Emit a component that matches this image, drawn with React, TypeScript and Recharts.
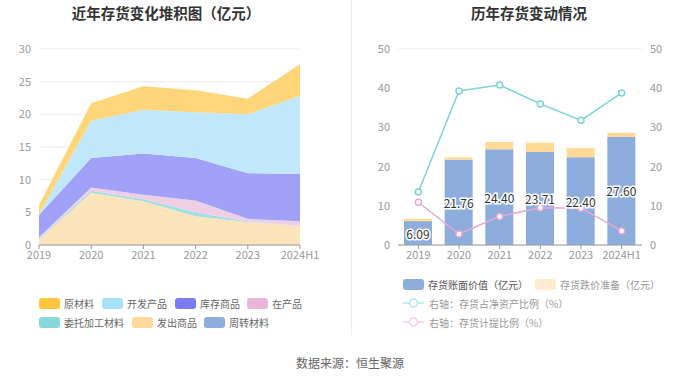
import React from 'react';
import {
  AreaChart,
  Area,
  ComposedChart,
  Bar,
  Line,
  XAxis,
  YAxis,
  CartesianGrid,
  LabelList
} from 'recharts';

const years = ['2019', '2020', '2021', '2022', '2023', '2024H1'];

// 左图：存货构成（亿元）
const zhouzhuan = [0, 0, 0, 0, 0, 0];
const fachu = [0.8, 8.0, 6.7, 4.4, 3.5, 2.9];
const weituo = [0.1, 0.3, 0.3, 0.6, 0.1, 0.05];
const zaichan = [0.3, 0.5, 0.7, 1.8, 0.4, 0.7];
const kucun = [3.4, 4.5, 6.3, 6.5, 7.0, 7.2];
const kaifa = [0.1, 5.7, 6.7, 7.0, 9.0, 12.0];
const yuancailiao = [1.4, 2.7, 3.6, 3.4, 2.4, 4.8];

// 右图：账面价值、跌价准备、比例
const bookValue = [6.09, 21.76, 24.4, 23.71, 22.4, 27.6];
const provision = [0.6, 0.6, 1.9, 2.4, 2.3, 1.0];
const netAssetRatio = [13.5, 39.3, 40.8, 36.0, 31.8, 38.8];
const provisionRatio = [10.9, 2.8, 7.3, 9.5, 9.4, 3.6];

const leftTicks = [0, 5, 10, 15, 20, 25, 30];
const rightTicks = [0, 10, 20, 30, 40, 50];

const areaSeries = [
  { key: 'zhouzhuan', name: '周转材料', values: zhouzhuan, fill: '#A9C0E6' },
  { key: 'fachu', name: '发出商品', values: fachu, fill: '#FDE5BB' },
  { key: 'weituo', name: '委托加工材料', values: weituo, fill: '#9FE0E2' },
  { key: 'zaichan', name: '在产品', values: zaichan, fill: '#EFCFE6' },
  { key: 'kucun', name: '库存商品', values: kucun, fill: '#A0A1F7' },
  { key: 'kaifa', name: '开发产品', values: kaifa, fill: '#C1E8FA' },
  { key: 'yuancailiao', name: '原材料', values: yuancailiao, fill: '#FFD57A' }
];

const areaData = years.map((year, i) => {
  const row: Record<string, string | number> = { year };
  areaSeries.forEach(s => {
    row[s.key] = s.values[i];
  });
  return row;
});

const barData = years.map((year, i) => ({
  year,
  book: bookValue[i],
  provision: provision[i],
  netRatio: netAssetRatio[i],
  provRatio: provisionRatio[i]
}));

const FONT = '"Noto Sans CJK SC", "Noto Sans", sans-serif';
const tickStyle = { fill: '#999', fontSize: 11, fontFamily: FONT };

const legendLeft = [
  { name: '原材料', color: '#FFC53D', x: 39, y: 303 },
  { name: '开发产品', color: '#A8E1FA', x: 102, y: 303 },
  { name: '库存商品', color: '#7C7CF0', x: 175, y: 303 },
  { name: '在产品', color: '#E9B6D8', x: 247, y: 303 },
  { name: '委托加工材料', color: '#88D7DA', x: 39, y: 322 },
  { name: '发出商品', color: '#FFD99B', x: 132, y: 322 },
  { name: '周转材料', color: '#8DADDC', x: 204, y: 322 }
];

const Swatch = ({ color }: { color: string }) => (
  <span
    style={{
      display: 'inline-block',
      width: 21,
      height: 11,
      borderRadius: 3,
      background: color,
      marginRight: 4
    }}
  />
);

const LineIcon = ({ color }: { color: string }) => (
  <svg width={21} height={12} style={{ marginRight: 5 }}>
    <line x1={0} y1={6} x2={21} y2={6} stroke={color} strokeWidth={1.5} />
    <circle cx={10.5} cy={6} r={4} fill="#fff" stroke={color} strokeWidth={1.5} />
  </svg>
);

const legendItem = (x: number, y: number, icon: React.ReactNode, text: string, color: string) => (
  <div
    key={text}
    style={{
      position: 'absolute',
      left: x,
      top: y - 8,
      height: 16,
      display: 'flex',
      alignItems: 'center',
      fontSize: 10,
      color,
      whiteSpace: 'nowrap'
    }}
  >
    {icon}
    {text}
  </div>
);

const BarLabel = (props: any) => {
  const { x, y, width, height, value } = props;
  return (
    <text
      x={x + width / 2}
      y={y + height / 2}
      textAnchor="middle"
      dominantBaseline="central"
      fontSize={12}
      fontFamily={FONT}
      fill="#333"
      stroke="#fff"
      strokeWidth={3}
      paintOrder="stroke"
    >
      {Number(value).toFixed(2)}
    </text>
  );
};

export default function App() {
  return (
    <div
      style={{
        position: 'absolute',
        left: 0,
        top: 0,
        width: 700,
        height: 378,
        background: '#fff',
        fontFamily: FONT,
        overflow: 'hidden'
      }}
    >
      <div
        style={{
          position: 'absolute',
          left: 0,
          width: 332,
          top: 2,
          textAlign: 'center',
          fontSize: 14.5,
          fontWeight: 'bold',
          color: '#333'
        }}
      >
        近年存货变化堆积图（亿元）
      </div>
      <div
        style={{
          position: 'absolute',
          left: 350,
          width: 358,
          top: 2,
          textAlign: 'center',
          fontSize: 14.5,
          fontWeight: 'bold',
          color: '#333'
        }}
      >
        历年存货变动情况
      </div>
      <div style={{ position: 'absolute', left: 351, top: 0, width: 1, height: 335, background: '#EEEEEE' }} />

      <div style={{ position: 'absolute', left: 0, top: 0 }}>
        <AreaChart width={350} height={270} data={areaData} margin={{ top: 49, right: 50, left: 9, bottom: 0 }}>
          <CartesianGrid vertical={false} stroke="#E9EDF5" />
          <XAxis
            dataKey="year"
            height={25}
            tick={tickStyle}
            tickLine={{ stroke: '#999' }}
            axisLine={{ stroke: '#999' }}
            interval={0}
            tickSize={4}
          />
          <YAxis
            width={30}
            domain={[0, 30]}
            ticks={leftTicks}
            tick={tickStyle}
            axisLine={false}
            tickLine={false}
            interval={0}
          />
          {areaSeries.map(s => (
            <Area
              key={s.key}
              type="linear"
              dataKey={s.key}
              name={s.name}
              stackId="inv"
              stroke="none"
              fill={s.fill}
              fillOpacity={1}
              isAnimationActive={false}
              dot={false}
              activeDot={false}
            />
          ))}
        </AreaChart>
      </div>

      <div style={{ position: 'absolute', left: 350, top: 0 }}>
        <ComposedChart width={350} height={270} data={barData} margin={{ top: 49, right: 28, left: 18, bottom: 0 }}>
          <CartesianGrid vertical={false} stroke="#E9EDF5" />
          <XAxis
            dataKey="year"
            height={25}
            tick={tickStyle}
            tickLine={{ stroke: '#999' }}
            axisLine={{ stroke: '#999' }}
            interval={0}
            tickSize={4}
          />
          <YAxis
            yAxisId="left"
            width={30}
            domain={[0, 50]}
            ticks={rightTicks}
            tick={tickStyle}
            axisLine={false}
            tickLine={false}
            interval={0}
          />
          <YAxis
            yAxisId="right"
            orientation="right"
            width={30}
            domain={[0, 50]}
            ticks={rightTicks}
            tick={tickStyle}
            axisLine={false}
            tickLine={false}
            interval={0}
          />
          <Bar yAxisId="left" dataKey="book" stackId="b" fill="#8DADDC" barSize={28} isAnimationActive={false}>
            <LabelList dataKey="book" content={BarLabel} />
          </Bar>
          <Bar yAxisId="left" dataKey="provision" stackId="b" fill="#FFD996" barSize={28} isAnimationActive={false} />
          <Line
            yAxisId="right"
            type="linear"
            dataKey="netRatio"
            stroke="#7ED3D8"
            strokeWidth={1.5}
            dot={{ r: 3, fill: '#fff', stroke: '#7ED3D8', strokeWidth: 1.5 }}
            activeDot={false}
            isAnimationActive={false}
          />
          <Line
            yAxisId="right"
            type="linear"
            dataKey="provRatio"
            stroke="#E6A9D3"
            strokeWidth={1.5}
            dot={{ r: 3, fill: '#fff', stroke: '#E6A9D3', strokeWidth: 1.5 }}
            activeDot={false}
            isAnimationActive={false}
          />
        </ComposedChart>
      </div>

      {legendLeft.map(l => legendItem(l.x, l.y, <Swatch color={l.color} />, l.name, '#666'))}

      {legendItem(403, 284, <Swatch color="#8DADDC" />, '存货账面价值（亿元）', '#555')}
      {legendItem(535, 284, <Swatch color="#FEEBD0" />, '存货跌价准备（亿元）', '#999')}
      {legendItem(403, 303, <LineIcon color="#B3E6EA" />, '右轴：存货占净资产比例（%）', '#999')}
      {legendItem(403, 322, <LineIcon color="#F2CDE6" />, '右轴：存货计提比例（%）', '#999')}

      <div
        style={{
          position: 'absolute',
          left: 0,
          width: 700,
          top: 354,
          textAlign: 'center',
          fontSize: 12,
          color: '#666'
        }}
      >
        数据来源：恒生聚源
      </div>
    </div>
  );
}
